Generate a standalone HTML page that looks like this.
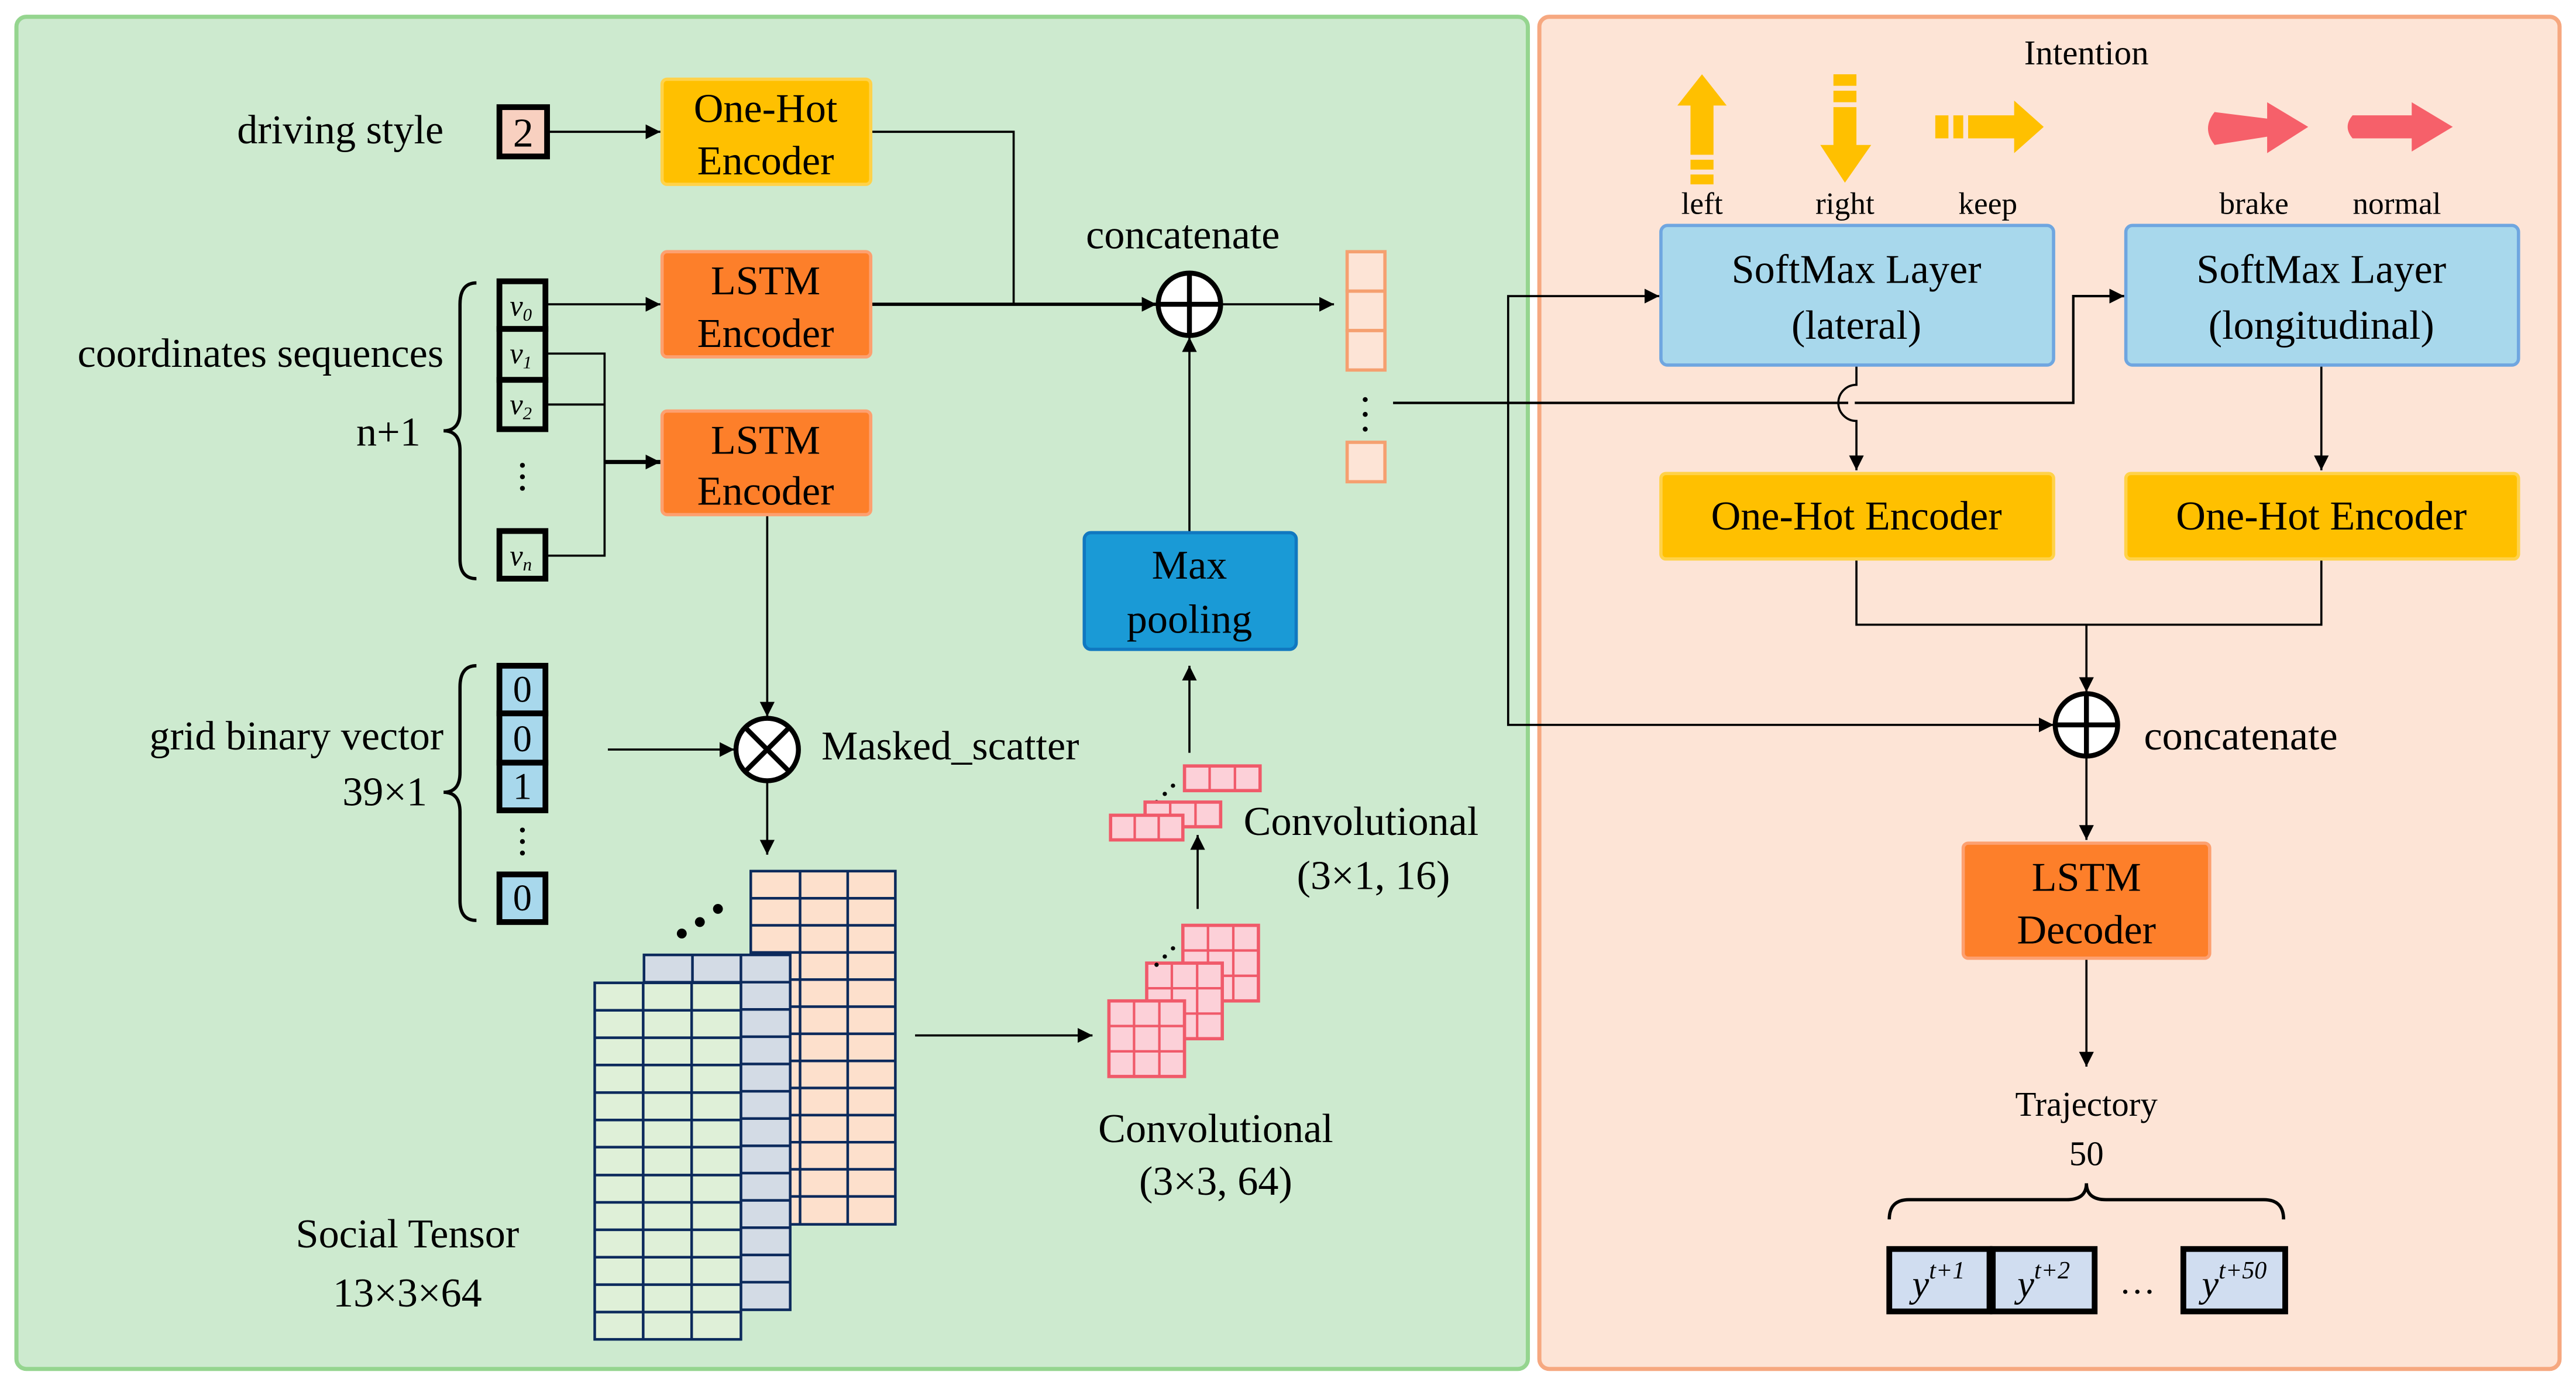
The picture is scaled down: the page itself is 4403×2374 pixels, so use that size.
<!DOCTYPE html>
<html><head><meta charset="utf-8"><style>
html,body{margin:0;padding:0;background:#fff;}
svg{display:block;}
svg text{font-family:"Liberation Serif","DejaVu Serif",serif !important;fill:#000;}
</style></head><body>
<svg width="4403" height="2374" viewBox="0 0 1568 845" xmlns="http://www.w3.org/2000/svg" font-family="Liberation Serif, DejaVu Serif, serif">
<defs>
<marker id="ah" viewBox="0 0 10 10" refX="10" refY="5" markerWidth="9" markerHeight="9" markerUnits="userSpaceOnUse" orient="auto"><path d="M0,0L10,5L0,10z" fill="#000"/></marker>
</defs>
<rect width="1568" height="845" fill="#fff"/>
<rect x="10" y="10" width="920" height="823" rx="6" fill="#cdeacf" stroke="#95d58f" stroke-width="2.5"/>
<rect x="937" y="10" width="621" height="823" rx="6" fill="#fde4d6" stroke="#f6a880" stroke-width="2.5"/>

<g stroke="#000" stroke-width="1.3" fill="none">
<line x1="334" y1="80" x2="402" y2="80" marker-end="url(#ah)"/>
<polyline points="530,80 617,80 617,185"/>
<line x1="530" y1="185" x2="704" y2="185" marker-end="url(#ah)" stroke-width="2"/>
<line x1="743" y1="185" x2="812" y2="185" marker-end="url(#ah)"/>
<line x1="333" y1="185" x2="402" y2="185" marker-end="url(#ah)"/>
<polyline points="333,215 368,215 368,338 333,338"/>
<line x1="333" y1="246" x2="368" y2="246"/>
<line x1="368" y1="281" x2="402" y2="281" marker-end="url(#ah)" stroke-width="2.5"/>
<line x1="467" y1="313" x2="467" y2="436" marker-end="url(#ah)"/>
<line x1="370" y1="456" x2="447" y2="456" marker-end="url(#ah)"/>
<line x1="467" y1="475" x2="467" y2="520" marker-end="url(#ah)"/>
<line x1="557" y1="630" x2="665" y2="630" marker-end="url(#ah)"/>
<line x1="729" y1="553" x2="729" y2="508" marker-end="url(#ah)"/>
<line x1="724" y1="458" x2="724" y2="405" marker-end="url(#ah)"/>
<line x1="724" y1="324" x2="724" y2="205" marker-end="url(#ah)"/>
<polyline points="848,245 1262,245 1262,180 1293,180" marker-end="url(#ah)" stroke-width="1.5"/>
<polyline points="918,245 918,180 1010,180" marker-end="url(#ah)"/>
<polyline points="918,245 918,441 1250,441" marker-end="url(#ah)"/>
<path d="M1130,222 L1130,234 A10,10 0 0 0 1130,256 L1130,286" marker-end="url(#ah)"/>
<line x1="1413" y1="222" x2="1413" y2="286" marker-end="url(#ah)"/>
<polyline points="1130,340 1130,380 1413,380 1413,340"/>
<line x1="1270" y1="380" x2="1270" y2="421" marker-end="url(#ah)"/>
<line x1="1270" y1="460" x2="1270" y2="511" marker-end="url(#ah)"/>
<line x1="1270" y1="583" x2="1270" y2="649" marker-end="url(#ah)"/>
</g>
<rect x="1125" y="240" width="4" height="10" fill="#fde4d6"/>
<line x1="848" y1="245" x2="1120" y2="245" stroke="#000" stroke-width="1.5"/>

<g font-size="25">
<text x="270" y="87" text-anchor="end">driving style</text>
<text x="270" y="223" text-anchor="end">coordinates sequences</text>
<text x="256" y="271" text-anchor="end">n+1</text>
<text x="270" y="456" text-anchor="end">grid binary vector</text>
<text x="260" y="490" text-anchor="end">39×1</text>
<text x="720" y="151" text-anchor="middle">concatenate</text>
<text x="500" y="462">Masked_scatter</text>
<text x="757" y="508">Convolutional</text>
<text x="836" y="541" text-anchor="middle">(3×1, 16)</text>
<text x="740" y="695" text-anchor="middle">Convolutional</text>
<text x="740" y="727" text-anchor="middle">(3×3, 64)</text>
<text x="248" y="759" text-anchor="middle">Social Tensor</text>
<text x="248" y="795" text-anchor="middle">13×3×64</text>
</g>

<rect x="304" y="65" width="29" height="30" fill="#f8d0c0" stroke="#000" stroke-width="3.5"/>
<text x="318.5" y="89" font-size="25" text-anchor="middle">2</text>

<rect x="403" y="48" width="127" height="64" rx="3" fill="#ffc000" stroke="#ffd24a" stroke-width="2"/>
<text x="466" y="74" font-size="25" text-anchor="middle">One-Hot</text>
<text x="466" y="106" font-size="25" text-anchor="middle">Encoder</text>
<rect x="403" y="153" width="127" height="64" rx="3" fill="#fd7f2a" stroke="#fda070" stroke-width="2"/>
<text x="466" y="179" font-size="25" text-anchor="middle">LSTM</text>
<text x="466" y="211" font-size="25" text-anchor="middle">Encoder</text>
<rect x="403" y="250" width="127" height="63" rx="3" fill="#fd7f2a" stroke="#fda070" stroke-width="2"/>
<text x="466" y="276" font-size="25" text-anchor="middle">LSTM</text>
<text x="466" y="307" font-size="25" text-anchor="middle">Encoder</text>

<g fill="#cdeacf" stroke="#000" stroke-width="3.5">
<rect x="304" y="171" width="28" height="29"/>
<rect x="304" y="200" width="28" height="31"/>
<rect x="304" y="231" width="28" height="30"/>
<rect x="304" y="323" width="28" height="29"/>
</g>
<g font-size="18" font-style="italic" text-anchor="middle">
<text x="317" y="192">v<tspan font-size="11" dy="3">0</tspan></text>
<text x="317" y="221">v<tspan font-size="11" dy="3">1</tspan></text>
<text x="317" y="252">v<tspan font-size="11" dy="3">2</tspan></text>
<text x="317" y="344">v<tspan font-size="11" dy="3">n</tspan></text>
</g>
<g fill="#000"><circle cx="318" cy="283" r="1.5"/><circle cx="318" cy="290" r="1.5"/><circle cx="318" cy="297" r="1.5"/>
<circle cx="318" cy="505" r="1.5"/><circle cx="318" cy="512" r="1.5"/><circle cx="318" cy="519" r="1.5"/>
<circle cx="831" cy="243" r="1.5"/><circle cx="831" cy="252" r="1.5"/><circle cx="831" cy="261" r="1.5"/></g>
<g stroke="#000" stroke-width="2" fill="none">
<path d="M290,172 Q280,172 280,185 L280,250 Q280,262 270,262 Q280,262 280,274 L280,340 Q280,352 290,352"/>
<path d="M290,405 Q280,405 280,418 L280,470 Q280,482 270,482 Q280,482 280,494 L280,548 Q280,560 290,560"/>
<path d="M1150,742 Q1150,730 1162,730 L1258,730 Q1270,730 1270,720 Q1270,730 1282,730 L1378,730 Q1390,730 1390,742"/>
</g>

<g fill="#a8d8ec" stroke="#000" stroke-width="3.5">
<rect x="304" y="405" width="28" height="29"/>
<rect x="304" y="434" width="28" height="30"/>
<rect x="304" y="464" width="28" height="29"/>
<rect x="304" y="532" width="28" height="29"/>
</g>
<g font-size="23" text-anchor="middle">
<text x="318" y="427">0</text><text x="318" y="457">0</text><text x="318" y="486">1</text><text x="318" y="554">0</text>
</g>

<g stroke="#000" stroke-width="3" fill="#fff">
<circle cx="724" cy="185" r="19"/>
<circle cx="467" cy="456" r="19"/>
<circle cx="1270" cy="441" r="19"/>
</g>
<g stroke="#000" stroke-width="3">
<line x1="705" y1="185" x2="743" y2="185"/><line x1="724" y1="166" x2="724" y2="204"/>
<line x1="1251" y1="441" x2="1289" y2="441"/><line x1="1270" y1="422" x2="1270" y2="460"/>
<line x1="454" y1="443" x2="480" y2="469"/><line x1="480" y1="443" x2="454" y2="469"/>
</g>

<g fill="#fde4d6" stroke="#f5a070" stroke-width="2">
<rect x="820" y="153" width="23" height="24"/><rect x="820" y="177" width="23" height="24"/><rect x="820" y="201" width="23" height="24"/>
<rect x="820" y="269" width="23" height="24"/>
</g>

<rect x="660" y="324" width="129" height="71" rx="4" fill="#1a9ad6" stroke="#1078c0" stroke-width="2"/>
<text x="724" y="352" font-size="25" text-anchor="middle">Max</text>
<text x="724" y="385" font-size="25" text-anchor="middle">pooling</text>

<g stroke="#0c2a5c" stroke-width="1.6">
<rect x="457" y="530" width="88" height="215" fill="#fde0cc"/>
<g fill="none">
<line x1="487" y1="530" x2="487" y2="745"/><line x1="516" y1="530" x2="516" y2="745"/>
<line x1="457" y1="546.5" x2="545" y2="546.5"/><line x1="457" y1="563" x2="545" y2="563"/><line x1="457" y1="579.5" x2="545" y2="579.5"/><line x1="457" y1="596" x2="545" y2="596"/><line x1="457" y1="612.5" x2="545" y2="612.5"/><line x1="457" y1="629" x2="545" y2="629"/><line x1="457" y1="645.5" x2="545" y2="645.5"/><line x1="457" y1="662" x2="545" y2="662"/><line x1="457" y1="678.5" x2="545" y2="678.5"/><line x1="457" y1="695" x2="545" y2="695"/><line x1="457" y1="711.5" x2="545" y2="711.5"/><line x1="457" y1="728" x2="545" y2="728"/>
</g>
<rect x="392" y="581" width="89" height="216" fill="#d3dbe5"/>
<g fill="none">
<line x1="421.5" y1="581" x2="421.5" y2="797"/><line x1="451" y1="581" x2="451" y2="797"/>
<line x1="392" y1="597.6" x2="481" y2="597.6"/><line x1="392" y1="614.2" x2="481" y2="614.2"/><line x1="392" y1="630.8" x2="481" y2="630.8"/><line x1="392" y1="647.4" x2="481" y2="647.4"/><line x1="392" y1="664" x2="481" y2="664"/><line x1="392" y1="680.6" x2="481" y2="680.6"/><line x1="392" y1="697.2" x2="481" y2="697.2"/><line x1="392" y1="713.8" x2="481" y2="713.8"/><line x1="392" y1="730.4" x2="481" y2="730.4"/><line x1="392" y1="747" x2="481" y2="747"/><line x1="392" y1="763.6" x2="481" y2="763.6"/><line x1="392" y1="780.2" x2="481" y2="780.2"/>
</g>
<rect x="362" y="598" width="89" height="217" fill="#dff0d8"/>
<g fill="none">
<line x1="391.5" y1="598" x2="391.5" y2="815"/><line x1="421" y1="598" x2="421" y2="815"/>
<line x1="362" y1="614.7" x2="451" y2="614.7"/><line x1="362" y1="631.4" x2="451" y2="631.4"/><line x1="362" y1="648" x2="451" y2="648"/><line x1="362" y1="664.8" x2="451" y2="664.8"/><line x1="362" y1="681.5" x2="451" y2="681.5"/><line x1="362" y1="698" x2="451" y2="698"/><line x1="362" y1="715" x2="451" y2="715"/><line x1="362" y1="731.6" x2="451" y2="731.6"/><line x1="362" y1="748.3" x2="451" y2="748.3"/><line x1="362" y1="765" x2="451" y2="765"/><line x1="362" y1="781.7" x2="451" y2="781.7"/><line x1="362" y1="798.4" x2="451" y2="798.4"/>
</g>
</g>
<g fill="#000"><circle cx="415" cy="568" r="3"/><circle cx="426" cy="561" r="3"/><circle cx="437" cy="553" r="3"/></g>

<!-- conv 3x3 -->
<g stroke="#f05a6a" stroke-width="2" fill="#fcd0d8">
<rect x="720" y="563" width="46" height="46"/>
<path d="M735.3,563V609M750.7,563V609M720,578.3H766M720,593.7H766" fill="none" stroke-width="1.5"/>
<rect x="698" y="586" width="46" height="46"/>
<path d="M713.3,586V632M728.7,586V632M698,601.3H744M698,616.7H744" fill="none" stroke-width="1.5"/>
<rect x="675" y="609" width="46" height="46"/>
<path d="M690.3,609V655M705.7,609V655M675,624.3H721M675,639.7H721" fill="none" stroke-width="1.5"/>
</g>
<g fill="#000"><circle cx="704" cy="587" r="1.3"/><circle cx="709" cy="582" r="1.3"/><circle cx="714" cy="577" r="1.3"/>
<circle cx="704" cy="488" r="1.3"/><circle cx="709" cy="483" r="1.3"/><circle cx="714" cy="478" r="1.3"/></g>
<g stroke="#f05a6a" stroke-width="2" fill="#fcd0d8">
<rect x="721" y="466" width="46" height="15"/>
<path d="M736.3,466V481M751.7,466V481" stroke-width="1.5"/>
<rect x="697" y="488" width="46" height="15"/>
<path d="M712.3,488V503M727.7,488V503" stroke-width="1.5"/>
<rect x="676" y="496" width="44" height="15"/>
<path d="M690.7,496V511M705.3,496V511" stroke-width="1.5"/>
</g>

<text x="1270" y="39" font-size="21" text-anchor="middle">Intention</text>
<g fill="#ffc000">
<polygon points="1036,45 1051,64 1043,64 1043,94 1029,94 1029,64 1021,64"/>
<rect x="1029" y="97" width="14" height="6"/><rect x="1029" y="106" width="14" height="6"/>
<rect x="1116" y="45" width="14" height="7"/><rect x="1116" y="55" width="14" height="7"/>
<polygon points="1116,65 1130,65 1130,88 1139,88 1123,111 1108,88 1116,88"/>
<rect x="1178" y="70" width="8" height="14"/><rect x="1189" y="70" width="6" height="14"/>
<polygon points="1198,70 1226,70 1226,61 1244,77 1226,93 1226,84 1198,84"/>
</g>
<g fill="#f6606a">
<path d="M1348,68 L1380,72 L1380,62 L1405,77 L1380,93 L1380,83 L1348,88 Q1340,78 1348,68z"/>
<path d="M1432,70 L1468,70 L1468,62 L1493,77 L1468,92 L1468,84 L1432,84 Q1426,77 1432,70z"/>
</g>
<g font-size="19" text-anchor="middle">
<text x="1036" y="130">left</text><text x="1123" y="130">right</text><text x="1210" y="130">keep</text>
<text x="1372" y="130">brake</text><text x="1459" y="130">normal</text>
</g>
<rect x="1011" y="137" width="239" height="85" rx="4" fill="#a8d8ec" stroke="#6fa6e0" stroke-width="2"/>
<text x="1130" y="172" font-size="25" text-anchor="middle">SoftMax Layer</text>
<text x="1130" y="206" font-size="25" text-anchor="middle">(lateral)</text>
<rect x="1294" y="137" width="239" height="85" rx="4" fill="#a8d8ec" stroke="#6fa6e0" stroke-width="2"/>
<text x="1413" y="172" font-size="25" text-anchor="middle">SoftMax Layer</text>
<text x="1413" y="206" font-size="25" text-anchor="middle">(longitudinal)</text>
<rect x="1011" y="288" width="239" height="52" rx="3" fill="#ffc000" stroke="#ffd24a" stroke-width="2"/>
<text x="1130" y="322" font-size="25" text-anchor="middle">One-Hot Encoder</text>
<rect x="1294" y="288" width="239" height="52" rx="3" fill="#ffc000" stroke="#ffd24a" stroke-width="2"/>
<text x="1413" y="322" font-size="25" text-anchor="middle">One-Hot Encoder</text>
<text x="1305" y="456" font-size="25">concatenate</text>
<rect x="1195" y="513" width="150" height="70" rx="3" fill="#fd7f2a" stroke="#fda070" stroke-width="2"/>
<text x="1270" y="542" font-size="25" text-anchor="middle">LSTM</text>
<text x="1270" y="574" font-size="25" text-anchor="middle">Decoder</text>
<text x="1270" y="679" font-size="21" text-anchor="middle">Trajectory</text>
<text x="1270" y="709" font-size="21" text-anchor="middle">50</text>
<g fill="#d0ddf0" stroke="#000" stroke-width="3.5">
<rect x="1150" y="760" width="61" height="38"/><rect x="1213" y="760" width="62" height="38"/><rect x="1329" y="760" width="62" height="38"/>
</g>
<g font-size="23" font-style="italic" text-anchor="middle">
<text x="1180" y="789">y<tspan font-size="15" dy="-11">t+1</tspan></text>
<text x="1244" y="789">y<tspan font-size="15" dy="-11">t+2</tspan></text>
<text x="1360" y="789">y<tspan font-size="15" dy="-11">t+50</tspan></text>
</g>
<text x="1301" y="787" font-size="22" text-anchor="middle">…</text>
</svg>
</body></html>
